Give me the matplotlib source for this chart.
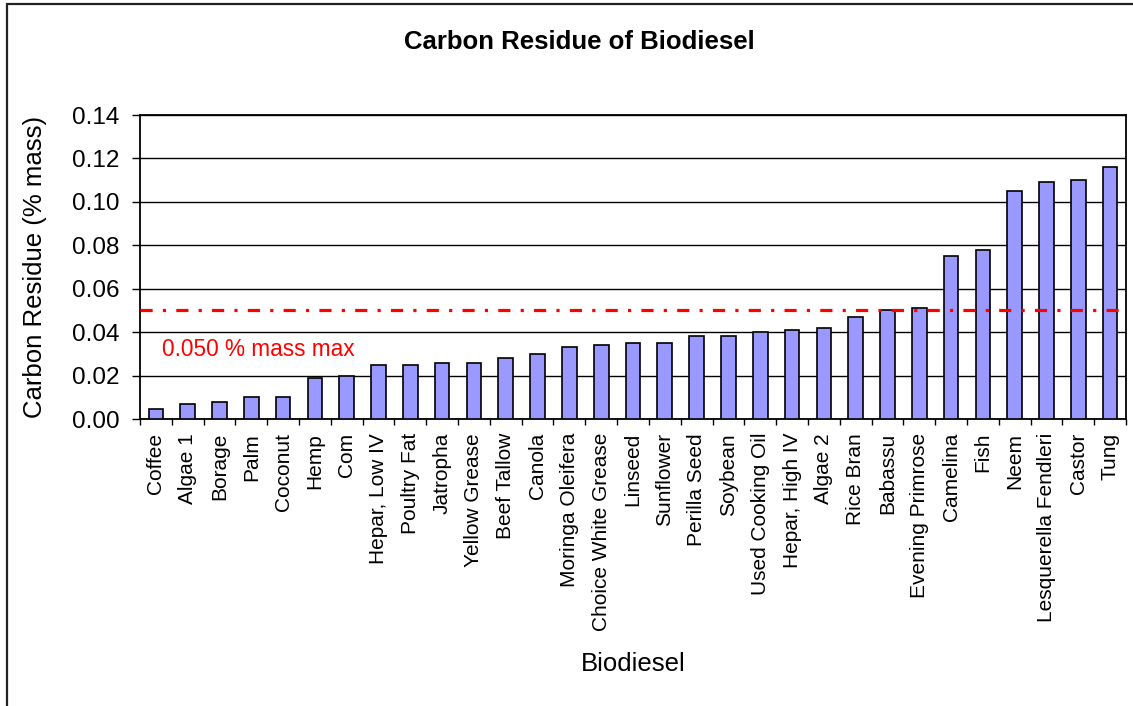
import matplotlib
matplotlib.use("Agg")
import matplotlib.pyplot as plt
from matplotlib.patches import Rectangle
import numpy as np

plt.rcParams['font.family'] = ['Liberation Sans', 'DejaVu Sans']

# data
fuels = ["Coffee", "Algae 1", "Borage", "Palm", "Coconut", "Hemp", "Com",
         "Hepar, Low IV", "Poultry Fat", "Jatropha", "Yellow Grease", "Beef Tallow",
         "Canola", "Moringa Oleifera", "Choice White Grease", "Linseed", "Sunflower",
         "Perilla Seed", "Soybean", "Used Cooking Oil", "Hepar, High IV", "Algae 2",
         "Rice Bran", "Babassu", "Evening Primrose", "Camelina", "Fish", "Neem",
         "Lesquerella Fendleri", "Castor", "Tung"]
residue = [0.0045, 0.0069, 0.0077, 0.010, 0.010, 0.019, 0.020,
           0.025, 0.025, 0.026, 0.026, 0.028,
           0.030, 0.033, 0.034, 0.035, 0.035,
           0.038, 0.038, 0.040, 0.041, 0.042,
           0.047, 0.050, 0.051, 0.075, 0.078, 0.105,
           0.109, 0.110, 0.116]
limit = 0.050
y_ticks = [0.00, 0.02, 0.04, 0.06, 0.08, 0.10, 0.12, 0.14]

fig = plt.figure(figsize=(11.33, 7.06), dpi=100)
ax = fig.add_axes([140/1133, 1 - 419/706, 986/1133, 304/706])

x = np.arange(len(fuels))
ax.bar(x, residue, width=0.46, color="#9999FF", edgecolor="black", linewidth=1.2, zorder=3)

# spec limit
ax.axhline(limit, color="red", linewidth=2.3, linestyle=(0, (3.8, 3.2, 1.0, 3.2)), zorder=4)
ax.text(0.19, 0.0318, "0.050 % mass max", color="red", fontsize=16.3, va="center", ha="left")

ax.set_xlim(-0.5, len(fuels) - 0.5)
ax.set_ylim(0, 0.14)
ax.set_yticks(y_ticks)
ax.set_yticklabels([f"{v:.2f}" for v in y_ticks], fontsize=17.5)
ax.yaxis.grid(True, color="black", linewidth=1.0, zorder=0)
ax.set_axisbelow(True)
ax.tick_params(axis="y", direction="out", length=6, width=1, pad=9, color="black")

ax.set_xticks(x)
ax.set_xticklabels(fuels, rotation=90, fontsize=15)
ax.set_xticks(np.arange(-0.5, len(fuels) + 0.5, 1), minor=True)
ax.tick_params(axis="x", which="major", length=0, pad=10)
ax.tick_params(axis="x", which="minor", direction="out", length=4.5, width=1, color="black")

for s in ax.spines.values():
    s.set_color("black")
    s.set_linewidth(1.3)

ax.set_ylabel("Carbon Residue (% mass)", fontsize=18.5)
ax.yaxis.set_label_coords(-0.094, 0.5)
ax.set_xlabel("Biodiesel", fontsize=18.5)
ax.xaxis.set_label_coords(0.5, -0.765)

fig.text(579/1133, 1 - 42/706, "Carbon Residue of Biodiesel", fontsize=18.5,
         fontweight="bold", ha="center", va="center")

# outer chart border (cut off at right and bottom like the reference)
fig.patches.append(Rectangle((7/1133, -0.1), 1.2, 1.1 - 4/706, transform=fig.transFigure,
                             fill=False, edgecolor="#222222", linewidth=1.6))

fig.savefig("out.png", dpi=100)
